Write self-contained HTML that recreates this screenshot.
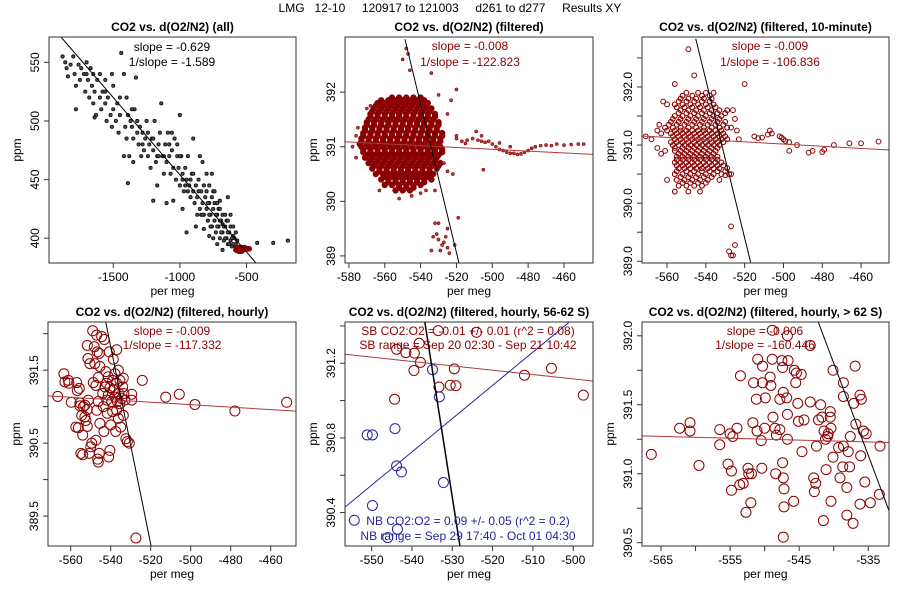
<!DOCTYPE html>
<html><head><meta charset="utf-8"><style>
body{margin:0;background:#fff}
svg{display:block;font-family:"Liberation Sans",Arial,sans-serif}
</style></head><body>
<svg id="c" width="900" height="600" viewBox="0 0 900 600">
<text x="450" y="12" text-anchor="middle" font-size="12" xml:space="preserve">LMG   12-10     120917 to 121003     d261 to d277     Results XY</text>
</svg>
<script>
// ---------- Panel 1 data (all) ----------
const p1X=[-1880,-1860,-1850,-1840,-1820,-1800,-1790,-1780,-1760,-1750,-1740,-1720,-1710,-1700,-1690,-1680,-1670,-1660,-1650,-1640,-1630,-1620,-1600,-1590,-1580,-1560,-1550,-1540,-1520,-1510,-1500,-1480,-1470,-1460,-1450,-1440,-1420,-1410,-1400,-1390,-1380,-1370,-1360,-1350,-1340,-1330,-1320,-1310,-1300,-1290,-1280,-1270,-1260,-1250,-1240,-1230,-1220,-1210,-1200,-1190,-1180,-1170,-1160,-1150,-1140,-1130,-1120,-1110,-1100,-1090,-1080,-1070,-1060,-1050,-1040,-1030,-1020,-1010,-1000,-990,-980,-970,-960,-950,-940,-930,-920,-910,-900,-890,-880,-870,-860,-850,-840,-830,-820,-810,-800,-790,-780,-770,-760,-750,-740,-730,-720,-710,-700,-690,-680,-670,-660,-650,-640,-630,-620,-610,-600,-1390,-1200,-1170,-1420,-1000,-900,-850,-830,-750,-700,-640,-1510,-1560,-1780,-950,-1100,-1050,-880,-820,-780,-720,-680,-580,-560,-420,-300,-190,-1640,-1350,-980,-860,-840,-820,-800,-790,-780,-770,-760,-750,-740,-730,-720,-710,-700,-690,-680,-670,-660,-650,-640,-630,-620,-610,-600,-590,-580,-570,-780,-760,-800,-740,-720,-700,-680,-660,-640,-620,-600,-830,-870,-900,-920,-940,-960,-980,-1000,-1020,-1060,-1080,-1120,-1160,-1200,-1240,-1280,-1320,-1360,-1400,-1450,-1500,-1560,-1600,-1650,-1700];
const p1Y=[555,550,545,538,548,555,540,530,548,535,545,540,525,550,535,520,545,530,515,525,505,535,520,510,525,515,500,520,505,495,510,500,515,490,505,558,540,495,485,505,470,500,495,485,510,537,490,480,495,470,490,475,485,500,470,480,460,485,475,500,465,470,480,490,515,470,455,480,465,490,470,455,475,460,485,450,470,460,445,470,455,440,460,450,470,445,435,455,440,430,445,435,450,425,440,430,420,435,425,415,430,420,410,425,415,405,420,410,400,415,405,398,410,400,395,405,398,393,402,447,432,445,470,505,485,470,465,440,432,435,540,535,510,405,430,432,410,408,402,395,390,395,392,396,396,398,503,465,425,440,420,445,440,430,420,410,435,400,430,420,410,425,415,405,420,410,400,415,405,395,410,400,395,400,405,398,445,455,455,440,430,425,412,420,415,420,410,420,420,455,450,440,445,450,470,480,490,480,470,470,485,490,480,500,510,520,520,530,525,540,540,540];
const p1RedX=[-580,-570,-560,-555,-550,-545,-540,-535,-530,-525,-520,-515,-510,-505,-500,-495,-490,-485,-480,-565,-575,-560,-545,-535,-550];
const p1RedY=[390,391,390,392,391,390,391,392,391,390,391,392,391,391,391,391,391,391,391,392,392,389,392,389,389];
const p1Fit=[-1892,571.6,-430,379];

// ---------- Panel 2 data (filtered) ----------
const p2RowY=[391.9,391.8,391.7,391.6,391.5,391.4,391.3,391.2,391.1,391.0,390.9,390.8,390.7,390.6,390.5,390.4,390.3,390.2];
const p2RowX=[
[-556,-552,-548,-544,-540],
[-564,-560,-556,-552,-548,-544,-540,-536],
[-566,-562,-558,-554,-550,-546,-542,-538,-534],
[-568,-564,-560,-556,-552,-548,-544,-540,-536,-532],
[-569,-565,-561,-557,-553,-549,-545,-541,-537,-533],
[-570,-566,-562,-558,-554,-550,-546,-542,-538,-534,-530],
[-571,-567,-563,-559,-555,-551,-547,-543,-539,-535,-531],
[-572,-568,-564,-560,-556,-552,-548,-544,-540,-536,-532,-528],
[-573,-569,-565,-561,-557,-553,-549,-545,-541,-537,-533,-529],
[-573,-569,-565,-561,-557,-553,-549,-545,-541,-537,-533,-529],
[-572,-568,-564,-560,-556,-552,-548,-544,-540,-536,-532,-528],
[-571,-567,-563,-559,-555,-551,-547,-543,-539,-535,-531],
[-569,-565,-561,-557,-553,-549,-545,-541,-537,-533,-529],
[-567,-563,-559,-555,-551,-547,-543,-539,-535,-531],
[-565,-561,-557,-553,-549,-545,-541,-537,-533],
[-562,-558,-554,-550,-546,-542,-538,-534],
[-560,-556,-552,-548,-544,-540],
[-554,-550,-546]];
const p2Row2Y=[391.85,391.75,391.65,391.55,391.45,391.35,391.25,391.15,391.05,390.95,390.85,390.75,390.65,390.55,390.45,390.35,390.25];
const p2Row2X=[
[-562,-558,-554,-550,-546,-542,-538],
[-565,-561,-557,-553,-549,-545,-541,-537],
[-567,-563,-559,-555,-551,-547,-543,-539,-535],
[-568,-564,-560,-556,-552,-548,-544,-540,-536,-532],
[-570,-566,-562,-558,-554,-550,-546,-542,-538,-534,-530],
[-571,-567,-563,-559,-555,-551,-547,-543,-539,-535,-531],
[-572,-568,-564,-560,-556,-552,-548,-544,-540,-536,-532,-528],
[-573,-569,-565,-561,-557,-553,-549,-545,-541,-537,-533,-529],
[-574,-570,-566,-562,-558,-554,-550,-546,-542,-538,-534,-530],
[-572,-568,-564,-560,-556,-552,-548,-544,-540,-536,-532,-528],
[-570,-566,-562,-558,-554,-550,-546,-542,-538,-534,-530],
[-568,-564,-560,-556,-552,-548,-544,-540,-536,-532],
[-566,-562,-558,-554,-550,-546,-542,-538,-534,-530],
[-563,-559,-555,-551,-547,-543,-539,-535],
[-560,-556,-552,-548,-544,-540,-536],
[-558,-554,-550,-546,-542,-538],
[-552,-548,-544]];
const p2X=[-520,-517,-514,-511,-508,-506,-504,-502,-500,-498,-496,-494,-492,-490,-488,-486,-484,-482,-480,-478,-476,-473,-470,-467,-464,-460,-456,-452,-449,-496,-509,-506,-490,-505,-520,-515,-522,-525,-527,-525,-523,-520,-530,-534,-548,-547,-550,-546,-576,-578,-576,-575,-570,-568,-563,-552,-545,-540,-537,-532,-531,-530,-528,-527,-525,-526,-529,-534,-532,-530,-525,-521,-519,-524,-533];
const p2Y=[391.15,391.1,391.12,391.15,391.12,391.1,391.08,391.1,391.05,391.0,390.95,390.93,390.9,390.88,390.88,390.86,390.87,390.9,390.93,390.97,391.0,391.02,391.03,391.02,391.05,391.03,391.04,391.05,391.05,391.07,391.28,391.2,391.0,390.58,391.2,391.06,390.5,390.55,390.7,391.6,391.85,392.05,391.95,392.35,392.8,392.7,392.6,392.4,390.8,391.0,391.2,391.35,391.7,391.75,390.2,390.05,390.1,390.15,390.2,390.2,389.4,389.3,389.2,389.25,389.15,389.35,389.1,389.1,389.6,389.6,389.5,389.2,389.7,389.05,389.35];
const p2Fit=[-548.75,392.97,-518.6,388.87];
const p2Reg=[-582.2,391.09,-443.8,390.86];

// ---------- Panel 3 data (10-minute) ----------
const p3RowY=[391.9,391.8,391.7,391.6,391.5,391.4,391.3,391.2,391.1,391.0,390.9,390.8,390.7,390.6,390.5,390.4,390.3,390.2];
const p3RowX=[
[-550,-544,-540,-536],
[-553,-549,-545,-541,-537],
[-556,-552,-548,-544,-540,-536],
[-553,-549,-545,-541,-537,-533,-529],
[-556,-552,-548,-544,-540,-536,-532],
[-558,-554,-550,-546,-542,-538,-534,-530],
[-561,-557,-553,-549,-545,-541,-537,-533,-529],
[-558,-555,-552,-549,-546,-543,-540,-537,-534,-531],
[-556,-553,-550,-547,-544,-541,-538,-535,-532,-529],
[-557,-554,-551,-548,-545,-542,-539,-536,-533],
[-556,-553,-550,-547,-544,-541,-538,-535],
[-555,-552,-549,-546,-543,-540,-537,-534],
[-556,-553,-550,-547,-544,-541,-538,-535,-532],
[-554,-551,-548,-545,-542,-539,-536,-533],
[-556,-552,-548,-544,-540,-536,-532,-528],
[-555,-551,-547,-543,-539],
[-554,-550,-546,-542],
[-556,-549,-543]];
const p3Row2Y=[391.85,391.75,391.65,391.55,391.45,391.35,391.25,391.15,391.05,390.95,390.85,390.75,390.65,390.55,390.45,390.35];
const p3Row2X=[
[-552,-547,-542,-538],
[-554,-550,-546,-542,-538],
[-555,-551,-547,-543,-539,-535],
[-554,-550,-546,-542,-538,-534,-530],
[-557,-553,-549,-545,-541,-537,-533],
[-559,-555,-551,-547,-543,-539,-535,-531],
[-560,-556,-553,-550,-547,-544,-541,-538,-535,-532],
[-557,-554,-551,-548,-545,-542,-539,-536,-533,-530],
[-558,-555,-552,-549,-546,-543,-540,-537,-534,-531],
[-556,-552,-549,-546,-543,-540,-537,-534],
[-554,-551,-548,-545,-542,-539,-536],
[-555,-552,-549,-546,-543,-540,-537,-534],
[-555,-552,-549,-546,-543,-540,-537,-534,-531],
[-555,-550,-546,-542,-538,-534,-530],
[-553,-549,-545,-541,-537],
[-552,-548,-544,-540]];
const p3X=[-571,-568,-565,-564,-563,-562,-560,-565,-563,-561,-560,-556,-549,-546,-526,-525,-527,-524,-523,-520,-515,-513,-511,-508,-507,-506,-502,-501,-500,-499,-497,-497,-493,-487,-485,-480,-479,-474,-466,-460,-451,-527,-525,-528,-527,-526,-529,-527,-530,-533];
const p3Y=[391.15,391.1,391.25,391.35,391.2,391.75,391.7,390.95,390.85,390.9,390.4,392.05,392.65,392.2,391.6,391.45,391.3,391.25,391.1,392.05,391.15,391.12,391.13,391.18,391.25,391.2,391.15,391.13,391.1,391.07,391.05,390.9,391.0,390.87,390.9,390.88,390.92,391.0,391.03,391.03,391.06,389.6,389.28,389.17,389.1,389.1,390.6,390.5,390.48,390.4];
const p3Fit=[-545.2,392.83,-516.9,388.98];
const p3Reg=[-572.9,391.155,-445.6,390.914];

// ---------- Panel 4 data (hourly) ----------
const p4X=[-566.5,-563.4,-562.9,-561.2,-560.9,-559.7,-557.0,-556.7,-555.7,-555.4,-555.4,-557.4,-556.2,-554.5,-554.0,-554.9,-554.0,-553.7,-552.9,-552.4,-551.7,-551.2,-552.9,-551.7,-551.7,-551.4,-550.4,-550.7,-549.5,-550.0,-549.0,-548.2,-547.9,-547.0,-546.7,-548.7,-547.4,-546.2,-545.7,-545.4,-546.2,-547.0,-545.4,-547.4,-546.5,-545.7,-546.2,-544.5,-544.0,-543.7,-543.4,-542.9,-542.4,-542.0,-542.0,-541.7,-541.2,-541.2,-540.7,-540.4,-541.0,-540.4,-540.0,-539.5,-539.0,-538.7,-539.0,-537.9,-537.9,-537.5,-537.0,-537.0,-537.0,-536.7,-536.2,-536.2,-535.9,-535.4,-535.4,-535.0,-534.5,-534.0,-533.7,-533.7,-533.4,-532.9,-532.4,-531.7,-530.7,-529.5,-529.5,-524.2,-512.5,-505.7,-497.9,-477.9,-452.0,-527.4,-543.2,-538.7];
const p4Y=[391.14,391.45,391.34,391.36,391.32,391.06,391.33,391.22,391.25,391.05,391.01,390.72,390.71,390.88,390.61,390.36,390.34,391.00,391.02,390.81,390.96,391.09,390.86,390.73,391.84,391.66,391.59,390.36,390.50,390.45,392.04,391.82,391.59,391.98,391.75,391.33,391.29,391.40,391.73,391.55,391.07,390.95,390.77,390.54,390.28,390.36,390.24,391.96,391.18,391.00,390.66,391.27,391.48,391.32,391.09,390.91,391.41,391.16,391.75,390.40,390.31,391.26,390.75,391.07,391.36,391.23,390.93,391.45,391.13,390.66,391.78,391.32,390.95,391.07,390.84,391.50,391.18,391.36,391.04,390.72,391.11,391.27,391.39,390.88,391.18,391.09,390.56,390.52,390.50,391.17,391.09,391.36,391.13,391.17,391.03,390.94,391.06,389.20,391.92,391.65];
const p4Fit=[-542.5,392.16,-519.8,389.09];
const p4Reg=[-571.35,391.148,-447.35,390.938];

// ---------- Panel 5 data (hourly, 56-62 S) ----------
const p5SBX=[-533.5,-524.0,-538.2,-543.8,-541.5,-539.4,-537.9,-539.5,-529.5,-512.1,-505.4,-533.3,-530.5,-529.1,-544.3,-497.5];
const p5SBY=[391.375,391.366,391.307,391.275,391.257,391.254,391.205,391.161,391.170,391.136,391.173,391.073,391.082,391.080,391.007,391.029];
const p5NBX=[-534.9,-533.2,-544.2,-551.1,-549.8,-543.8,-542.6,-532.2,-549.8,-554.3,-543.6,-546.0];
const p5NBY=[391.166,391.020,390.850,390.816,390.816,390.650,390.618,390.561,390.438,390.359,390.311,390.266];
const p5Fit=[-536.8,391.421,-528.1,390.221];
const p5SBReg=[-556.6,391.248,-495.1,391.105];
const p5NBReg=[-556.6,390.429,-500.9,391.422];

// ---------- Panel 6 data (hourly, > 62 S) ----------
const p6X=[-566.4,-562.3,-560.8,-560.8,-559.5,-556.5,-556.5,-555.3,-555.0,-554.8,-554.6,-554.0,-554.8,-553.5,-553.6,-553.1,-552.7,-552.4,-552.3,-551.9,-552.0,-551.6,-551.7,-551.2,-551.1,-551.0,-550.5,-550.4,-550.3,-550.3,-550.0,-549.9,-549.2,-549.1,-548.9,-548.8,-548.5,-548.3,-548.4,-547.8,-547.8,-547.5,-547.4,-547.3,-547.4,-547.3,-547.2,-547.2,-546.8,-546.7,-546.7,-546.6,-545.7,-545.5,-545.4,-545.2,-545.1,-544.7,-544.3,-544.6,-545.8,-543.4,-542.9,-542.8,-542.6,-542.5,-542.2,-541.9,-541.7,-541.4,-541.2,-540.9,-540.8,-540.5,-540.5,-540.4,-540.4,-540.1,-540.1,-539.3,-541.5,-541.1,-539.1,-538.7,-538.6,-538.6,-538.1,-537.9,-537.7,-537.6,-536.9,-536.8,-537.1,-536.1,-536.2,-536.2,-536.0,-535.7,-535.5,-535.3,-534.7,-533.3,-533.4,-538.6,-538.1,-537.2,-547.3,-548.9,-546.7,-543.4];
const p6Y=[391.14,391.33,391.37,391.31,391.06,391.32,391.21,391.07,391.29,391.02,391.27,391.33,390.88,391.71,390.92,390.93,390.72,391.04,391.00,391.00,390.79,391.66,391.37,391.54,391.31,391.83,391.24,391.04,391.78,391.66,391.33,391.55,391.70,391.64,391.83,391.41,391.33,391.28,391.00,391.32,391.54,391.82,391.77,391.59,391.08,390.97,390.76,390.89,391.55,391.25,391.43,391.82,391.75,391.66,391.73,391.51,391.38,391.72,391.39,391.16,390.80,391.52,390.97,390.87,390.93,391.20,391.39,391.50,391.41,391.31,391.25,391.27,391.29,391.41,391.45,391.33,390.80,391.75,391.12,391.19,390.66,391.03,390.97,391.05,391.66,391.20,390.90,391.16,391.05,391.27,391.78,391.36,391.51,391.13,391.57,390.78,391.54,391.31,390.94,391.29,390.79,391.20,390.85,391.56,390.70,390.64,390.54,392.04,392.00,391.93];
const p6Fit=[-542.24,392.10,-532.0,390.732];
const p6Reg=[-567.75,391.274,-532.0,391.226];

// ---------- axis ticks ----------
const p1XTicks=[-1500,-1000,-500], p1YTicks=[400,450,500,550];
const p2XTicks=[-580,-560,-540,-520,-500,-480,-460], p2YTicks=[389,390,391,392];
const p3XTicks=[-560,-540,-520,-500,-480,-460], p3YTicks=[389,389.5,390,390.5,391,391.5,392,392.5], p3YLabels=["389.0","","390.0","","391.0","","392.0",""];
const p4XTicks=[-560,-540,-520,-500,-480,-460], p4YTicks=[389.5,390,390.5,391,391.5,392], p4YLabels=["389.5","","390.5","","391.5",""];
const p5XTicks=[-550,-540,-530,-520,-510,-500], p5YTicks=[390.4,390.6,390.8,391,391.2,391.4], p5YLabels=["390.4","","390.8","","391.2",""];
const p6XTicks=[-565,-560,-555,-550,-545,-540,-535], p6XLabels=["-565","","-555","","-545","","-535"];
const p6YTicks=[390.5,390.75,391,391.25,391.5,391.75,392], p6YLabels=["390.5","","391.0","","391.5","","392.0"];

const NS="http://www.w3.org/2000/svg";
const svg=document.getElementById('c');
const RED="#8b0000", LRED="#b03a3a", BLUE="#2323a0";
function el(tag,attrs,parent){const e=document.createElementNS(NS,tag);for(const k in attrs)e.setAttribute(k,attrs[k]);(parent||svg).appendChild(e);return e;}

function panel(name,box,xd,yd,title){
  const g=el('g',{});
  
  
  const cid='clip-'+name;
  const cp=el('clipPath',{id:cid},g);el('rect',{x:box.l,y:box.t,width:box.r-box.l,height:box.b-box.t},cp);
  const sx=v=>box.l+(v-xd[0])/(xd[1]-xd[0])*(box.r-box.l);
  const sy=v=>box.b-(v-yd[0])/(yd[1]-yd[0])*(box.b-box.t);
  const plot=el('g',{'clip-path':'url(#'+cid+')'},g);
  
  
  const t=el('text',{x:(box.l+box.r)/2,y:box.t-6,'text-anchor':'middle','font-size':12,'font-weight':'bold'},g);
  t.textContent=title;
  
  
  return {g,plot,sx,sy,box};
}
function axes(P,xt,xl,yt,yl){
  const {g,sx,sy,box}=P;
  const fr=el('rect',{x:box.l,y:box.t,width:box.r-box.l,height:box.b-box.t,fill:'none',stroke:'#333','stroke-width':1},g);
  
  
  const xa=el('g',{},g);
  
  
  el('line',{x1:sx(xt[0]),x2:sx(xt[xt.length-1]),y1:box.b,y2:box.b,stroke:'#333'},xa);
  xt.forEach((v,i)=>{const x=sx(v);el('line',{x1:x,x2:x,y1:box.b,y2:box.b+5,stroke:'#333'},xa);
    const lab=xl?xl[i]:String(v);if(lab){const tx=el('text',{x:x,y:box.b+18,'text-anchor':'middle','font-size':12},xa);tx.textContent=lab;
    
    }});
  const xt2=el('text',{x:(box.l+box.r)/2,y:box.b+32,'text-anchor':'middle','font-size':12},xa);xt2.textContent='per meg';
  
  
  const ya=el('g',{},g);
  
  
  el('line',{x1:box.l,x2:box.l,y1:sy(yt[0]),y2:sy(yt[yt.length-1]),stroke:'#333'},ya);
  yt.forEach((v,i)=>{const y=sy(v);el('line',{x1:box.l-5,x2:box.l,y1:y,y2:y,stroke:'#333'},ya);
    const lab=yl?yl[i]:String(v);if(lab){const tx=el('text',{x:0,y:0,'text-anchor':'middle','font-size':12,transform:`translate(${box.l-10},${y}) rotate(-90)`},ya);tx.textContent=lab;
    
    }});
  const yt2=el('text',{x:0,y:0,'text-anchor':'middle','font-size':12,transform:`translate(${box.l-28},${(box.t+box.b)/2}) rotate(-90)`},ya);yt2.textContent='ppm';
  
  
}
function pts(P,xs,ys,r,stroke,fill,sw,nm){
  xs.forEach((v,i)=>{const c=el('circle',{cx:P.sx(v),cy:P.sy(ys[i]),r:r,fill:fill,stroke:stroke,'stroke-width':sw},P.plot);
    
    });
}
function rows(P,ry,rx,r,stroke,fill,sw,nm){
  ry.forEach((y,i)=>rx[i].forEach(x=>{const c=el('circle',{cx:P.sx(x),cy:P.sy(y),r:r,fill:fill,stroke:stroke,'stroke-width':sw},P.plot);
    
    }));
}
function line(P,a,color,w,nm){
  const l=el('line',{x1:P.sx(a[0]),y1:P.sy(a[1]),x2:P.sx(a[2]),y2:P.sy(a[3]),stroke:color,'stroke-width':w},P.plot);
  
  
}
function note(P,x,y,txt,color,nm){
  const t=el('text',{x:x,y:y,'text-anchor':'middle','font-size':12,fill:color},P.g);t.textContent=txt;
  
  
}

// Panel 1
let P=panel('panel-all',{l:49,r:296,t:37,b:263},[-1982,-129],[378.9,571.6],'CO2 vs. d(O2/N2) (all)');
pts(P,p1X,p1Y,1.6,'#111','#555',0.9,'point-all');
pts(P,p1RedX,p1RedY,2.6,RED,RED,0.5,'point-filtered');
line(P,p1Fit,'#000',1,'fit-line');
axes(P,p1XTicks,null,p1YTicks,null);
note(P,172,51,'slope = -0.629','#000','slope-label');note(P,172,66,'1/slope = -1.589','#000','inverse-slope-label');

// Panel 2
P=panel('panel-filtered',{l:345,r:593,t:37,b:263},[-582.2,-443.8],[388.87,393.01],'CO2 vs. d(O2/N2) (filtered)');
rows(P,p2RowY,p2RowX,3.2,'none',RED,0,'point-filtered-core');
rows(P,p2Row2Y,p2Row2X,3.2,'none',RED,0,'point-filtered-core');
pts(P,p2X,p2Y,1.5,RED,'#b04040',0.6,'point-filtered');
line(P,p2Reg,LRED,1,'regression-line');
line(P,p2Fit,'#000',1,'fit-line');
axes(P,p2XTicks,null,p2YTicks,null);
note(P,470,50,'slope = -0.008',RED,'slope-label');note(P,470,66,'1/slope = -122.823',RED,'inverse-slope-label');

// Panel 3
P=panel('panel-10min',{l:642,r:889,t:37,b:263},[-572.9,-445.6],[388.97,392.86],'CO2 vs. d(O2/N2) (filtered, 10-minute)');
rows(P,p3RowY,p3RowX,2.4,RED,'none',1.1,'point-10min-core');
rows(P,p3Row2Y,p3Row2X,2.4,RED,'none',1.1,'point-10min-core');
pts(P,p3X,p3Y,2.4,RED,'none',1,'point-10min');
line(P,p3Reg,LRED,1,'regression-line');
line(P,p3Fit,'#000',1,'fit-line');
axes(P,p3XTicks,null,p3YTicks,p3YLabels);
note(P,770,50,'slope = -0.009',RED,'slope-label');note(P,770,66,'1/slope = -106.836',RED,'inverse-slope-label');

// Panel 4
P=panel('panel-hourly',{l:48,r:296,t:322,b:546},[-571.35,-447.35],[389.09,392.16],'CO2 vs. d(O2/N2) (filtered, hourly)');
pts(P,p4X,p4Y,5,RED,'none',1,'point-hourly');
line(P,p4Reg,LRED,1,'regression-line');
line(P,p4Fit,'#000',1,'fit-line');
axes(P,p4XTicks,null,p4YTicks,p4YLabels);
note(P,172,335,'slope = -0.009',RED,'slope-label');note(P,172,349,'1/slope = -117.332',RED,'inverse-slope-label');

// Panel 5
P=panel('panel-hourly-56-62S',{l:345,r:593,t:322,b:546},[-556.6,-495.1],[390.221,391.421],'CO2 vs. d(O2/N2) (filtered, hourly, 56-62 S)');
pts(P,p5SBX,p5SBY,5,RED,'none',1,'point-sb');
pts(P,p5NBX,p5NBY,5,BLUE,'none',1,'point-nb');
line(P,p5SBReg,LRED,1,'sb-regression-line');
line(P,p5NBReg,BLUE,1,'nb-regression-line');
line(P,p5Fit,'#000',1.5,'fit-line');
axes(P,p5XTicks,null,p5YTicks,p5YLabels);
note(P,468,335,'SB CO2:O2 = -0.01 +/- 0.01 (r^2 = 0.08)',RED,'sb-stats-label');
note(P,468,349,'SB range = Sep 20 02:30 - Sep 21 10:42',RED,'sb-range-label');
note(P,468,525,'NB CO2:O2 = 0.09 +/- 0.05 (r^2 = 0.2)',BLUE,'nb-stats-label');
note(P,468,540,'NB range = Sep 29 17:40 - Oct 01 04:30',BLUE,'nb-range-label');

// Panel 6
P=panel('panel-hourly-62S',{l:642,r:889,t:322,b:546},[-567.75,-532.0],[390.476,392.10],'CO2 vs. d(O2/N2) (filtered, hourly, > 62 S)');
pts(P,p6X,p6Y,5,RED,'none',1,'point-hourly-62s');
line(P,p6Reg,LRED,1,'regression-line');
line(P,p6Fit,'#000',1,'fit-line');
axes(P,p6XTicks,p6XLabels,p6YTicks,p6YLabels);
note(P,765,335,'slope = -0.006',RED,'slope-label');note(P,765,349,'1/slope = -160.446',RED,'inverse-slope-label');
</script>
</body></html>
